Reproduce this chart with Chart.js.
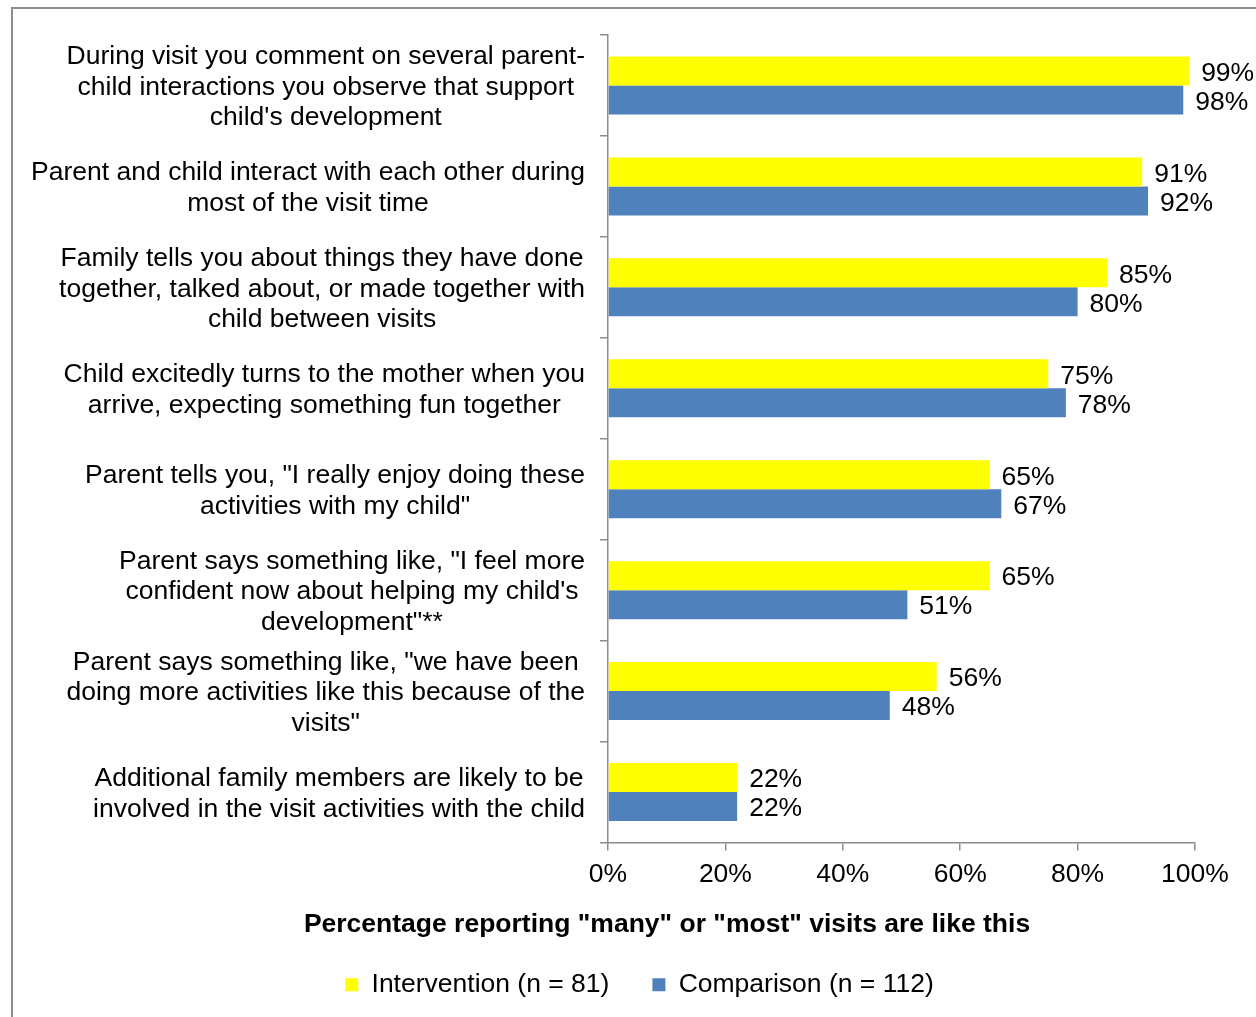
<!DOCTYPE html>
<html>
<head>
<meta charset="utf-8">
<script src="https://cdn.jsdelivr.net/npm/chart.js@4"></script>
<style>
  html, body { margin: 0; padding: 0; background: #fff; overflow: hidden; }
  #frame {
    position: absolute; left: 11px; top: 7px; width: 1300px; height: 1100px;
    border-left: 2px solid #8c8c8c; border-top: 2px solid #8c8c8c;
  }
  #moodChart { position: absolute; left: 0; top: 0; }
</style>
</head>
<body>
<div id="frame"></div>
<canvas id="moodChart" width="1256" height="1017"></canvas>
<script>
const categories = [
  ['During visit you comment on several parent-', 'child interactions you observe that support', "child's development"],
  ['Parent and child interact with each other during', 'most of the visit time'],
  ['Family tells you about things they have done', 'together, talked about, or made together with', 'child between visits'],
  ['Child excitedly turns to the mother when you', 'arrive, expecting something fun together'],
  ['Parent tells you, "I really enjoy doing these', 'activities with my child"'],
  ['Parent says something like, "I feel more', "confident now about helping my child's", 'development"**'],
  ['Parent says something like, "we have been', 'doing more activities like this because of the', 'visits"'],
  ['Additional family members are likely to be', 'involved in the visit activities with the child']
];
const intervention = [99, 91, 85, 75, 65, 65, 56, 22];
const comparison = [98, 92, 80, 78, 67, 51, 48, 22];
const xTicks = [0, 20, 40, 60, 80, 100];
const xTitle = 'Percentage reporting "many" or "most" visits are like this';

const FONT = 'Arial, "Liberation Sans", sans-serif';
const SIZE = 26.5;
const AXIS_GREY = '#8c8c8c';

// multi-line category labels, each centred on its own widest line
const categoryLabels = {
  id: 'categoryLabels',
  afterDraw(chart) {
    const ctx = chart.ctx;
    const y = chart.scales.y;
    const rightEdge = y.right - 23;
    const lineH = 30.5;
    ctx.save();
    ctx.font = SIZE + 'px ' + FONT;
    ctx.fillStyle = '#000';
    ctx.textAlign = 'center';
    ctx.textBaseline = 'middle';
    categories.forEach((lines, i) => {
      const widest = Math.max(...lines.map(l => ctx.measureText(l).width));
      const cx = rightEdge - widest / 2;
      const cy = y.getPixelForValue(i) + 2;
      const top = cy - (lines.length - 1) * lineH / 2;
      lines.forEach((l, j) => ctx.fillText(l, cx, top + j * lineH));
    });
    // axis title sits centred under the whole figure, not just the plot
    ctx.font = 'bold ' + SIZE + 'px ' + FONT;
    ctx.fillText(xTitle, 667, chart.scales.x.top + 82);
    ctx.restore();
  }
};

// value labels just past the end of each bar
const valueLabels = {
  id: 'valueLabels',
  afterDatasetsDraw(chart) {
    const ctx = chart.ctx;
    ctx.save();
    ctx.font = SIZE + 'px ' + FONT;
    ctx.fillStyle = '#000';
    ctx.textAlign = 'left';
    ctx.textBaseline = 'middle';
    chart.data.datasets.forEach((ds, di) => {
      chart.getDatasetMeta(di).data.forEach((bar, i) => {
        ctx.fillText(ds.data[i] + '%', bar.x + 12, bar.y + 2.5);
      });
    });
    ctx.restore();
  }
};

const ctx = document.getElementById('moodChart').getContext('2d');
const chart = new Chart(ctx, {
  type: 'bar',
  data: {
    labels: categories,
    datasets: [
      {
        label: 'Intervention (n = 81)',
        data: intervention,
        backgroundColor: '#ffff00',
        barPercentage: 1,
        categoryPercentage: 0.574
      },
      {
        label: 'Comparison (n = 112)',
        data: comparison,
        backgroundColor: '#4f81bd',
        barPercentage: 1,
        categoryPercentage: 0.574
      }
    ]
  },
  options: {
    indexAxis: 'y',
    responsive: false,
    animation: false,
    layout: { padding: { top: 35, right: 0, left: 23, bottom: 9 } },
    plugins: {
      tooltip: { enabled: false },
      legend: {
        position: 'bottom',
        labels: {
          boxWidth: 13,
          boxHeight: 13,
          padding: 43,
          color: '#000',
          font: { family: FONT, size: SIZE }
        }
      }
    },
    scales: {
      x: {
        min: 0,
        max: 100,
        afterBuildTicks(scale) { scale.ticks = xTicks.map(v => ({ value: v })); },
        afterFit(scale) {
          scale.height = 86;
          scale.paddingRight = 61;
        },
        ticks: {
          callback: v => v + '%',
          color: '#000',
          padding: 8,
          maxRotation: 0,
          font: { family: FONT, size: SIZE }
        },
        grid: { drawOnChartArea: false, drawTicks: true, tickLength: 8, color: AXIS_GREY, lineWidth: 1.5 },
        border: { color: AXIS_GREY, width: 1.5 }
      },
      y: {
        afterFit(scale) { scale.width = 585; },
        ticks: { display: false },
        grid: { drawOnChartArea: false, drawTicks: true, tickLength: 8, color: AXIS_GREY, lineWidth: 1.5, offset: true },
        border: { color: AXIS_GREY, width: 1.5 }
      }
    }
  },
  plugins: [categoryLabels, valueLabels]
});
</script>
</body>
</html>
